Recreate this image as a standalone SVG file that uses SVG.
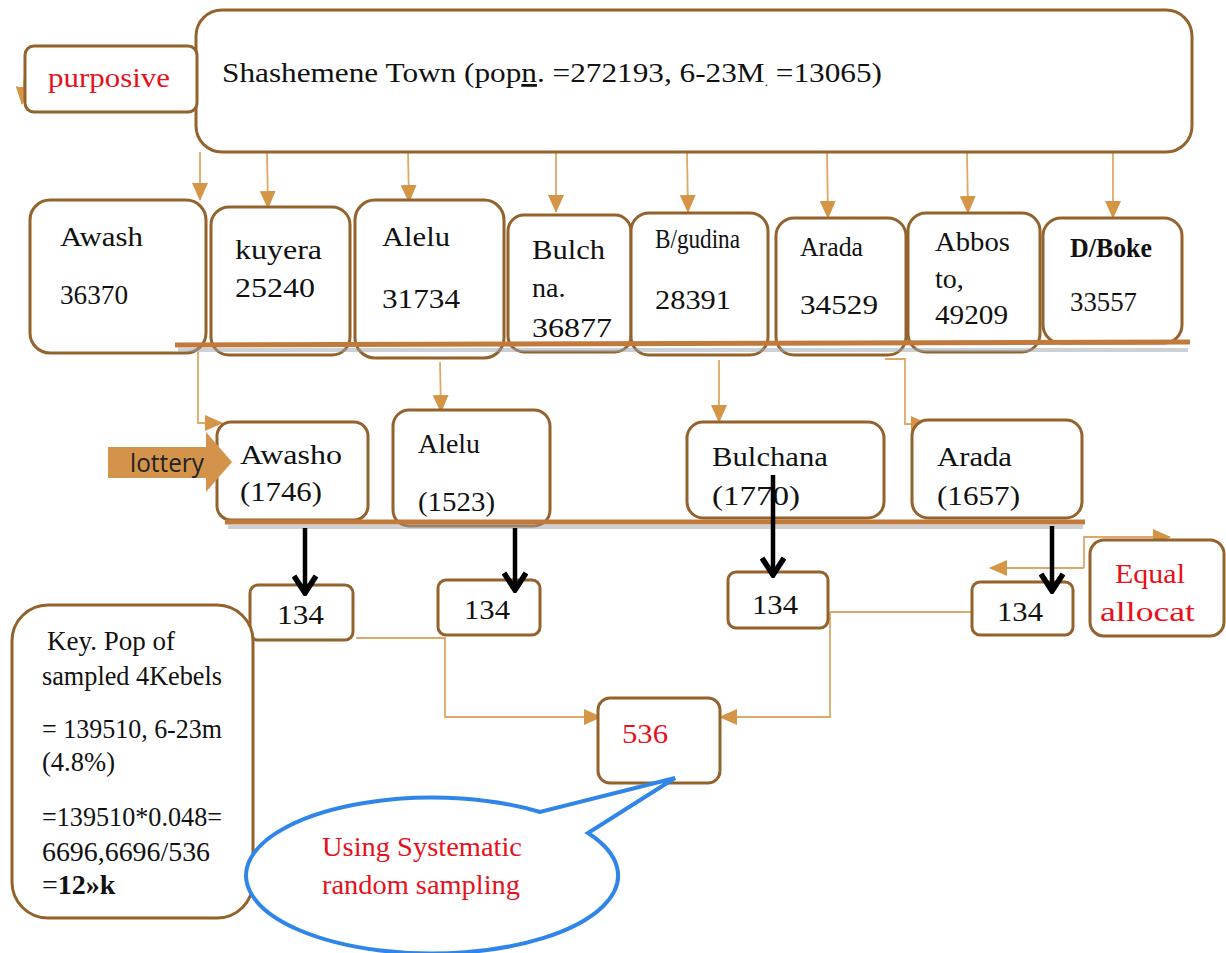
<svg xmlns="http://www.w3.org/2000/svg" width="1226" height="953" viewBox="0 0 1226 953">
<defs>
<style>
.box{fill:#fff;stroke:#94622C;stroke-width:3}
.t{font-family:"Liberation Serif","Times New Roman",serif;font-size:28px;fill:#111}
.r{fill:#E8101A}
.con{fill:none;stroke:#DDA868;stroke-width:1.8}
.blk{fill:none;stroke:#000;stroke-width:4.5}
.bar{stroke:#C27A3C;stroke-width:5}
.shadow{stroke:#9AA4AE;stroke-width:4;opacity:0.5}
</style>
<marker id="oa2" viewBox="0 0 18 16" refX="17" refY="8" markerWidth="18" markerHeight="16" markerUnits="userSpaceOnUse" orient="auto">
<path d="M0,0 L18,8 L0,16 Z" fill="#D49646"/>
</marker>
<marker id="ba" viewBox="0 0 22 26" refX="20" refY="13" markerWidth="22" markerHeight="26" markerUnits="userSpaceOnUse" orient="auto">
<path d="M2,2 L19,13 L2,24" fill="none" stroke="#000" stroke-width="5.5" stroke-linejoin="miter"/>
</marker>
</defs>
<rect width="1226" height="953" fill="#fff"/>

<g id="connectors">
<path class="con" d="M26,64 L22,104" marker-end="url(#oa2)"/>
<path class="con" d="M200,152 L200,200" marker-end="url(#oa2)"/>
<path class="con" d="M267,152 L268,208" marker-end="url(#oa2)"/>
<path class="con" d="M408,152 L409,202" marker-end="url(#oa2)"/>
<path class="con" d="M556,152 L556,212" marker-end="url(#oa2)"/>
<path class="con" d="M687,152 L688,212" marker-end="url(#oa2)"/>
<path class="con" d="M827,152 L828,218" marker-end="url(#oa2)"/>
<path class="con" d="M967,152 L968,213" marker-end="url(#oa2)"/>
<path class="con" d="M1113,152 L1113,218" marker-end="url(#oa2)"/>
<path class="con" d="M198,352 L198,423 L222,423" marker-end="url(#oa2)"/>
<path class="con" d="M440,362 L441,412" marker-end="url(#oa2)"/>
<path class="con" d="M719,360 L719,422" marker-end="url(#oa2)"/>
<path class="con" d="M885,359 L905,359 L905,424 L928,424" marker-end="url(#oa2)"/>
<path class="con" d="M356,638 L445,638 L445,717 L601,717" marker-end="url(#oa2)"/>
<path class="con" d="M830,612 L972,612"/>
<path class="con" d="M830,612 L830,717 L720,717" marker-end="url(#oa2)"/>
<path class="con" d="M1084,568 L990,568" marker-end="url(#oa2)"/>
<path class="con" d="M1084,568 L1084,537 L1170,537" marker-end="url(#oa2)"/>
</g>

<g id="top">
<rect class="box" x="196" y="10" width="996" height="142" rx="26"/>
<text class="t" x="222" y="82" textLength="660" lengthAdjust="spacingAndGlyphs">Shashemene Town (pop<tspan text-decoration="underline">n</tspan>. =272193, 6-23M<tspan font-size="12" dy="4">.</tspan><tspan dy="-4"> =13065)</tspan></text>
</g>
<g id="purposive">
<rect class="box" x="25" y="46" width="172" height="66" rx="9"/>
<text class="t r" x="48" y="87" textLength="122" lengthAdjust="spacingAndGlyphs">purposive</text>
</g>

<g id="awash">
<rect class="box" x="30" y="200" width="176" height="153" rx="20"/>
<text class="t" x="60" y="246" textLength="83" lengthAdjust="spacingAndGlyphs">Awash</text>
<text class="t" x="60" y="304" textLength="68" lengthAdjust="spacingAndGlyphs">36370</text>
</g>
<g id="kuyera">
<rect class="box" x="211" y="207" width="139" height="148" rx="18"/>
<text class="t" x="235" y="259" textLength="87" lengthAdjust="spacingAndGlyphs">kuyera</text>
<text class="t" x="235" y="297" textLength="80" lengthAdjust="spacingAndGlyphs">25240</text>
</g>
<g id="alelu1">
<rect class="box" x="355" y="200" width="149" height="158" rx="20"/>
<text class="t" x="382" y="246" textLength="68" lengthAdjust="spacingAndGlyphs">Alelu</text>
<text class="t" x="382" y="308" textLength="78" lengthAdjust="spacingAndGlyphs">31734</text>
</g>
<g id="bulchna">
<rect class="box" x="508" y="215" width="123" height="137" rx="16"/>
<text class="t" x="532" y="259" textLength="73" lengthAdjust="spacingAndGlyphs">Bulch</text>
<text class="t" x="532" y="297">na.</text>
<text class="t" x="532" y="337" textLength="80" lengthAdjust="spacingAndGlyphs">36877</text>
</g>
<g id="bgudina">
<rect class="box" x="631" y="213" width="137" height="142" rx="18"/>
<text class="t" x="655" y="248" font-size="20" textLength="85" lengthAdjust="spacingAndGlyphs">B/gudina</text>
<text class="t" x="655" y="309" textLength="76" lengthAdjust="spacingAndGlyphs">28391</text>
</g>
<g id="arada1">
<rect class="box" x="776" y="218" width="130" height="137" rx="18"/>
<text class="t" x="800" y="256" font-size="23" textLength="63" lengthAdjust="spacingAndGlyphs">Arada</text>
<text class="t" x="800" y="314" textLength="78" lengthAdjust="spacingAndGlyphs">34529</text>
</g>
<g id="abbosto">
<rect class="box" x="908" y="213" width="132" height="139" rx="18"/>
<text class="t" x="935" y="251" textLength="75" lengthAdjust="spacingAndGlyphs">Abbos</text>
<text class="t" x="935" y="288">to,</text>
<text class="t" x="935" y="324" textLength="73" lengthAdjust="spacingAndGlyphs">49209</text>
</g>
<g id="dboke">
<rect class="box" x="1043" y="218" width="139" height="125" rx="18"/>
<text class="t" x="1070" y="257" font-size="22" font-weight="bold" textLength="82" lengthAdjust="spacingAndGlyphs">D/Boke</text>
<text class="t" x="1070" y="311" font-size="23" textLength="67" lengthAdjust="spacingAndGlyphs">33557</text>
</g>

<g id="bar1">
<line class="shadow" x1="178" y1="350" x2="1188" y2="350"/>
<line class="bar" x1="175" y1="345" x2="1190" y2="342"/>
</g>

<g id="awasho">
<rect class="box" x="217" y="422" width="151" height="98" rx="14"/>
<text class="t" x="240" y="464" textLength="102" lengthAdjust="spacingAndGlyphs">Awasho</text>
<text class="t" x="240" y="501" textLength="82" lengthAdjust="spacingAndGlyphs">(1746)</text>
</g>
<g id="alelu2">
<rect class="box" x="393" y="410" width="157" height="116" rx="16"/>
<text class="t" x="418" y="453" textLength="62" lengthAdjust="spacingAndGlyphs">Alelu</text>
<text class="t" x="418" y="511" textLength="77" lengthAdjust="spacingAndGlyphs">(1523)</text>
</g>
<g id="bulchana">
<rect class="box" x="687" y="422" width="197" height="96" rx="16"/>
<text class="t" x="712" y="466" textLength="116" lengthAdjust="spacingAndGlyphs">Bulchana</text>
<text class="t" x="712" y="505" textLength="88" lengthAdjust="spacingAndGlyphs">(1770)</text>
</g>
<g id="arada2">
<rect class="box" x="912" y="420" width="170" height="98" rx="16"/>
<text class="t" x="937" y="466" textLength="75" lengthAdjust="spacingAndGlyphs">Arada</text>
<text class="t" x="937" y="505" textLength="83" lengthAdjust="spacingAndGlyphs">(1657)</text>
</g>

<g id="lottery">
<path d="M108,447 L206,447 L206,432 L232,462 L206,492 L206,478 L108,478 Z" fill="#D4934A"/>
<text x="130" y="472" font-family="'Liberation Sans Narrow','Open Sans',Arial,sans-serif" font-size="26" fill="#222" textLength="74" lengthAdjust="spacingAndGlyphs">lottery</text>
</g>

<g id="bar2">
<line class="shadow" x1="228" y1="527" x2="1083" y2="527"/>
<line class="bar" x1="225" y1="522" x2="1085" y2="522"/>
</g>

<g id="n134a">
<rect class="box" x="250" y="585" width="103" height="55" rx="8"/>
<text class="t" x="277" y="624" textLength="47" lengthAdjust="spacingAndGlyphs">134</text>
</g>
<g id="n134b">
<rect class="box" x="438" y="580" width="102" height="55" rx="8"/>
<text class="t" x="464" y="619" textLength="46" lengthAdjust="spacingAndGlyphs">134</text>
</g>
<g id="n134c">
<rect class="box" x="728" y="572" width="100" height="56" rx="8"/>
<text class="t" x="752" y="614" textLength="46" lengthAdjust="spacingAndGlyphs">134</text>
</g>
<g id="n134d">
<rect class="box" x="972" y="582" width="101" height="53" rx="8"/>
<text class="t" x="997" y="621" textLength="46" lengthAdjust="spacingAndGlyphs">134</text>
</g>
<g id="equal">
<rect class="box" x="1090" y="540" width="134" height="96" rx="14"/>
<text class="t r" x="1115" y="583" textLength="70" lengthAdjust="spacingAndGlyphs">Equal</text>
<text class="t r" x="1100" y="621" textLength="95" lengthAdjust="spacingAndGlyphs">allocat</text>
</g>

<g id="blackArrows">
<path class="blk" d="M305,528 L305,594" marker-end="url(#ba)"/>
<path class="blk" d="M515,528 L515,591" marker-end="url(#ba)"/>
<path class="blk" d="M773,475 L773,576" marker-end="url(#ba)"/>
<path class="blk" d="M1052,526 L1052,592" marker-end="url(#ba)"/>
</g>

<g id="n536">
<rect class="box" x="598" y="698" width="122" height="85" rx="12"/>
<text class="t r" x="622" y="743" textLength="46" lengthAdjust="spacingAndGlyphs">536</text>
</g>

<g id="key">
<rect class="box" x="12" y="605" width="241" height="313" rx="36"/>
<g class="t" font-size="24">
<text x="47" y="650" textLength="128" lengthAdjust="spacingAndGlyphs">Key. Pop of</text>
<text x="42" y="685" textLength="180" lengthAdjust="spacingAndGlyphs">sampled 4Kebels</text>
<text x="42" y="738" textLength="180" lengthAdjust="spacingAndGlyphs">= 139510, 6-23m</text>
<text x="42" y="771" textLength="73" lengthAdjust="spacingAndGlyphs">(4.8%)</text>
<text x="42" y="826" textLength="180" lengthAdjust="spacingAndGlyphs">=139510*0.048=</text>
<text x="42" y="861" textLength="168" lengthAdjust="spacingAndGlyphs">6696,6696/536</text>
<text x="42" y="894">=<tspan font-weight="bold">12»k</tspan></text>
</g>
</g>

<g id="bubble">
<path d="M540,812 A186,78 0 1 0 588,833 L675,778 Z" fill="#fff" stroke="#2F86E8" stroke-width="4" stroke-linejoin="miter"/>
<text class="t r" x="322" y="856" font-size="25" textLength="200" lengthAdjust="spacingAndGlyphs">Using Systematic</text>
<text class="t r" x="322" y="894" font-size="25" textLength="198" lengthAdjust="spacingAndGlyphs">random sampling</text>
</g>
</svg>
